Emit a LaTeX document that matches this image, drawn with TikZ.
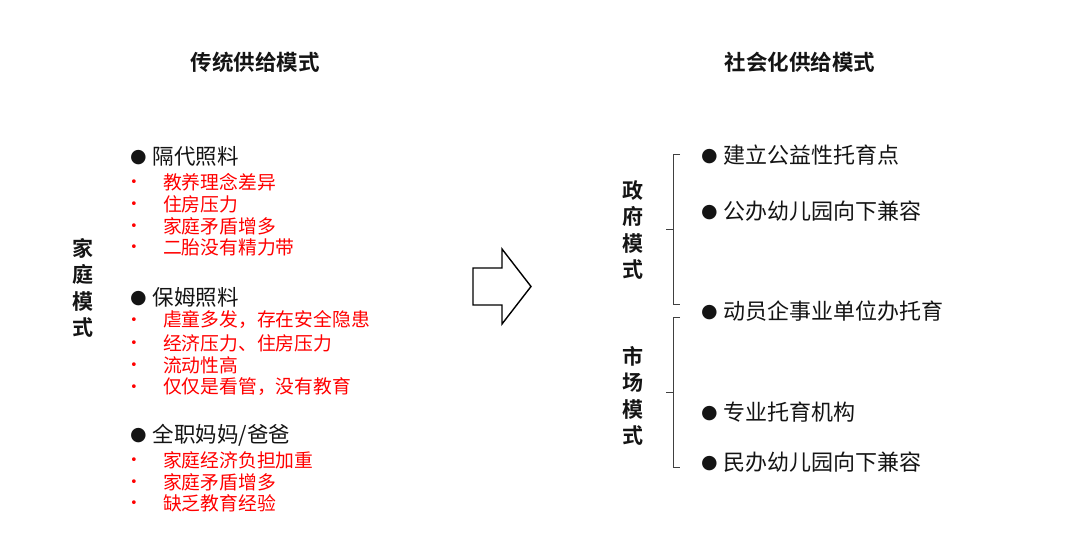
\documentclass[tikz,border=0pt]{standalone}
\usepackage{fontspec}
\setmainfont{Noto Sans CJK SC}[BoldFont={Noto Sans CJK SC Bold}]
\newfontfamily\symfont{DejaVu Sans}
\usetikzlibrary{positioning}
\definecolor{subred}{RGB}{255,0,0}
\definecolor{ink}{RGB}{20,20,20}
\newcommand{\bigdot}{\raisebox{1.5pt}{\symfont\fontsize{19}{19}\selectfont ●}\hspace{6pt}}
\newcommand{\smalldot}{\makebox[33pt][l]{\raisebox{2.5pt}{\symfont\fontsize{13}{13}\selectfont •}}}

\begin{document}
\begin{tikzpicture}[
  x=1pt, y=-1pt,
  every node/.style={inner sep=0pt, outer sep=0pt, text=ink},
  title/.style={font=\fontsize{21.5}{25}\selectfont\bfseries},
  mode/.style={align=center, font=\fontsize{21}{26.6}\selectfont\bfseries},
  item/.style={anchor=west, font=\fontsize{21.5}{25}\selectfont},
  sub/.style={anchor=west, text=subred, font=\fontsize{18.8}{22}\selectfont},
  choice/.style={anchor=west, font=\fontsize{22}{25}\selectfont},
  brace/.style={draw=black!75, line width=0.8pt}
]
\useasboundingbox (0,0) rectangle (1080,537);

\node[title] (old) at (255,62) {传统供给模式};
\node[title] (new) at (800,62) {社会化供给模式};

\node[mode] (family) at (83,288) {家\\庭\\模\\式};

\node[item] (grand) at (130,156) {\bigdot 隔代照料};
\node[sub] (g1) at (130,182) {\smalldot 教养理念差异};
\node[sub] (g2) at (130,204) {\smalldot 住房压力};
\node[sub] (g3) at (130,226) {\smalldot 家庭矛盾增多};
\node[sub] (g4) at (130,247) {\smalldot 二胎没有精力带};

\node[item] (nanny) at (130,297) {\bigdot 保姆照料};
\node[sub] (n1) at (130,320) {\smalldot 虐童多发，存在安全隐患};
\node[sub] (n2) at (130,343) {\smalldot 经济压力、住房压力};
\node[sub] (n3) at (130,365) {\smalldot 流动性高};
\node[sub] (n4) at (130,387) {\smalldot 仅仅是看管，没有教育};

\node[item] (parent) at (130,435) {\bigdot 全职妈妈/爸爸};
\node[sub] (p1) at (130,460) {\smalldot 家庭经济负担加重};
\node[sub] (p2) at (130,482) {\smalldot 家庭矛盾增多};
\node[sub] (p3) at (130,503) {\smalldot 缺乏教育经验};

\draw[line width=1.4pt, line join=miter] (473,268) -- (502,268) -- (502,249) -- (531,286.5)
  -- (502,324) -- (502,305) -- (473,305) -- cycle;

\node[mode] (gov) at (633,230) {政\\府\\模\\式};
\node[mode] (market) at (633,396) {市\\场\\模\\式};

\draw[brace] (680,154) -- (673,154) -- (673,304) -- (680,304);
\draw[brace] (673,229) -- (666,229);
\draw[brace] (680,317) -- (673,317) -- (673,467) -- (680,467);
\draw[brace] (673,392) -- (666,392);

\node[choice] (c1) at (701,155) {\bigdot 建立公益性托育点};
\node[choice] (c2) at (701,211) {\bigdot 公办幼儿园向下兼容};
\node[choice] (c3) at (701,311) {\bigdot 动员企事业单位办托育};
\node[choice] (c4) at (701,412) {\bigdot 专业托育机构};
\node[choice] (c5) at (701,462) {\bigdot 民办幼儿园向下兼容};
\end{tikzpicture}
\end{document}
